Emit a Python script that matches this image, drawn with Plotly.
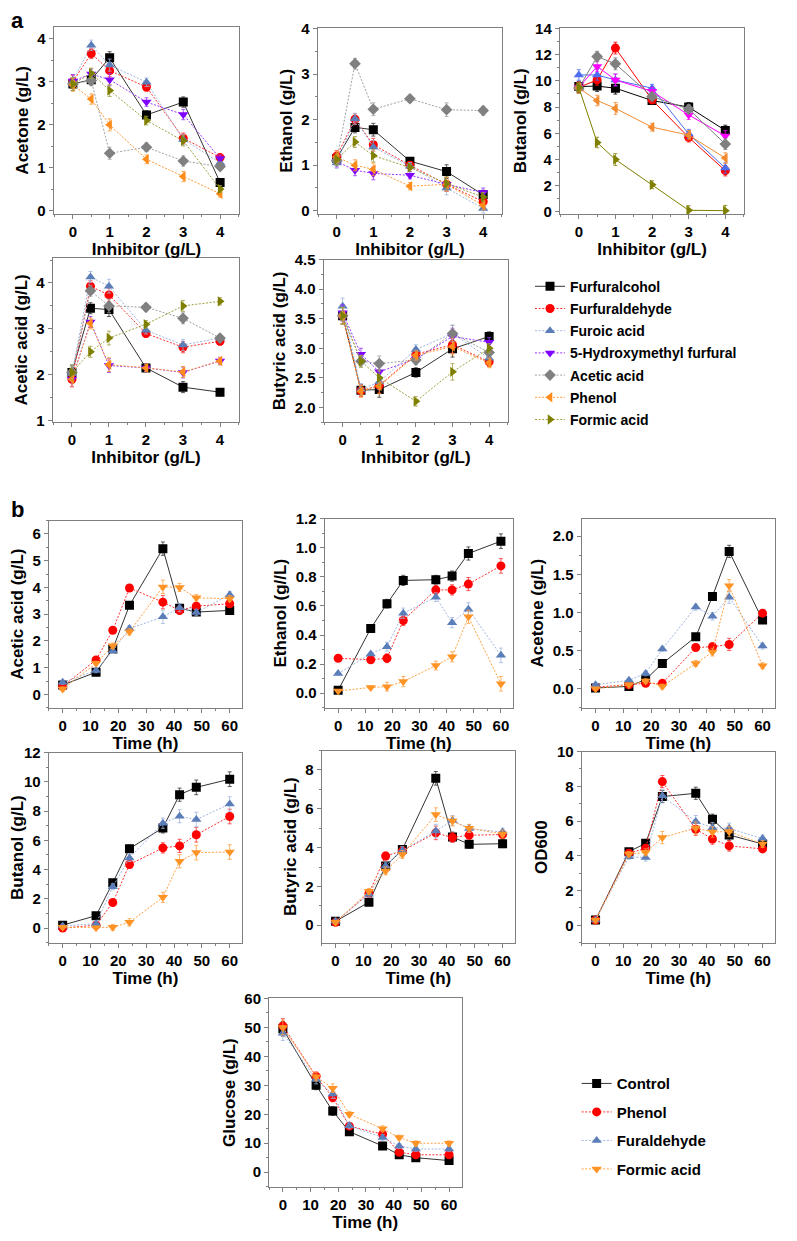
import plotly.graph_objects as go

# The page body has an 8px margin: figure is sized to fit inside the window,
# and all layout positions below are given in window pixels.
WIN_W, WIN_H = 797, 1241
OFF = 8
W, H = WIN_W - 2 * OFF, WIN_H - 2 * OFF
FONT = "Liberation Sans, Arial, sans-serif"
DOT = "2px,1.6px"

# ---------------- data: panel a ----------------
INHIB = [0, 0.5, 1, 2, 3, 4]
SERIES_A = ["Furfuralcohol", "Furfuraldehyde", "Furoic acid",
            "5-Hydroxymethyl furfural", "Acetic acid", "Phenol", "Formic acid"]

# Acetone (g/L)
ACE_FALC = [2.95, 3.05, 3.56, 2.23, 2.53, 0.66]
ACE_FALD = [3.00, 3.66, 3.26, 2.88, 1.69, 1.24]
ACE_FURO = [3.02, 3.85, 3.39, 2.99, 1.66, 1.12]
ACE_HMF = [3.02, 3.18, 3.05, 2.53, 2.24, 1.22]
ACE_ACET = [2.95, 3.03, 1.34, 1.48, 1.16, 1.03]
ACE_PHEN = [2.93, 2.60, 2.00, 1.20, 0.80, 0.40]
ACE_FORM = [2.95, 3.20, 2.80, 2.10, 1.63, 0.51]
ACE_ERR = [0.15, 0.12, 0.14, 0.10, 0.12, 0.08]

# Ethanol (g/L)
ETH_FALC = [1.15, 1.83, 1.78, 1.09, 0.86, 0.35]
ETH_FALD = [1.20, 2.01, 1.45, 1.00, 0.58, 0.20]
ETH_FURO = [1.05, 2.02, 1.40, 0.98, 0.50, 0.05]
ETH_HMF = [1.08, 0.89, 0.82, 0.78, 0.58, 0.40]
ETH_ACET = [1.10, 3.23, 2.23, 2.46, 2.22, 2.20]
ETH_PHEN = [1.18, 1.00, 0.91, 0.54, 0.58, 0.12]
ETH_FORM = [1.13, 1.51, 1.21, 0.95, 0.60, 0.30]
ETH_ERR = [0.12, 0.12, 0.14, 0.08, 0.15, 0.10]

# Butanol (g/L)
BUT_FALC = [9.57, 9.60, 9.44, 8.50, 8.00, 6.22]
BUT_FALD = [9.50, 10.07, 12.50, 8.55, 5.69, 3.15]
BUT_FURO = [10.45, 10.45, 10.07, 9.44, 5.95, 3.35]
BUT_HMF = [9.50, 11.10, 10.07, 9.20, 7.40, 5.80]
BUT_ACET = [9.45, 11.85, 11.30, 8.80, 7.85, 5.18]
BUT_PHEN = [9.45, 8.50, 7.90, 6.47, 5.86, 4.11]
BUT_FORM = [9.50, 5.30, 4.00, 2.08, 0.13, 0.10]
BUT_ERR = [0.40, 0.40, 0.45, 0.30, 0.35, 0.40]

# Acetic acid (g/L)
ACA_FALC = [2.05, 3.45, 3.42, 2.15, 1.73, 1.62]
ACA_FALD = [1.90, 3.93, 3.74, 2.90, 2.60, 2.73]
ACA_FURO = [2.02, 4.13, 3.93, 2.97, 2.65, 2.80]
ACA_HMF = [1.90, 3.15, 2.20, 2.15, 2.05, 2.30]
ACA_ACET = [2.05, 3.83, 3.50, 3.47, 3.23, 2.80]
ACA_PHEN = [1.90, 3.12, 2.22, 2.15, 2.06, 2.30]
ACA_FORM = [2.05, 2.50, 2.80, 3.10, 3.50, 3.60]
ACA_ERR = [0.16, 0.12, 0.15, 0.08, 0.12, 0.08]

# Butyric acid (g/L)
BUA_FALC = [3.55, 2.29, 2.30, 2.59, 2.99, 3.20]
BUA_FALD = [3.55, 2.28, 2.37, 2.90, 3.06, 2.77]
BUA_FURO = [3.71, 2.30, 2.43, 2.98, 3.25, 2.83]
BUA_HMF = [3.60, 2.90, 2.60, 2.82, 3.20, 3.10]
BUA_ACET = [3.55, 2.78, 2.74, 2.80, 3.25, 2.93]
BUA_PHEN = [3.55, 2.27, 2.36, 2.88, 3.03, 2.75]
BUA_FORM = [3.55, 2.78, 2.50, 2.10, 2.60, 3.00]
BUA_ERR = [0.14, 0.10, 0.13, 0.08, 0.14, 0.08]

# ---------------- data: panel b ----------------
TIME = [0, 12, 18, 24, 36, 42, 48, 60]
SERIES_B = ["Control", "Phenol", "Furaldehyde", "Formic acid"]

BACA_CTRL = [0.35, 0.83, 1.70, 3.33, 5.45, 3.22, 3.08, 3.14]
BACA_PHEN = [0.30, 1.29, 2.40, 3.98, 3.45, 3.14, 3.30, 3.39]
BACA_FURA = [0.45, 0.89, 1.63, 2.46, 2.90, 3.24, 3.06, 3.73]
BACA_FORM = [0.20, 1.16, 1.82, 2.34, 4.02, 4.00, 3.61, 3.58]
BACA_ERR = [0.08, 0.08, 0.10, 0.12, 0.25, 0.15, 0.12, 0.12]

BETH_CTRL = [0.02, 0.445, 0.615, 0.775, 0.78, 0.805, 0.96, 1.045]
BETH_PHEN = [0.24, 0.23, 0.24, 0.50, 0.71, 0.71, 0.75, 0.875]
BETH_FURA = [0.135, 0.27, 0.32, 0.55, 0.66, 0.485, 0.577, 0.26]
BETH_FORM = [0.015, 0.04, 0.045, 0.08, 0.19, 0.25, 0.525, 0.065]
BETH_ERR = [0.01, 0.01, 0.03, 0.035, 0.03, 0.035, 0.045, 0.05]

BACE_CTRL = [0.01, 0.03, 0.12, 0.33, 0.68, 1.21, 1.80, 0.90]
BACE_PHEN = [0.02, 0.05, 0.07, 0.07, 0.54, 0.55, 0.58, 0.99]
BACE_FURA = [0.05, 0.11, 0.20, 0.52, 1.07, 0.95, 1.20, 0.56]
BACE_FORM = [0.00, 0.05, 0.10, 0.03, 0.33, 0.48, 1.35, 0.30]
BACE_ERR = [0.02, 0.02, 0.03, 0.03, 0.04, 0.05, 0.08, 0.04]

BBUT_CTRL = [0.20, 0.85, 3.10, 5.43, 6.85, 9.12, 9.62, 10.18]
BBUT_PHEN = [0.00, 0.20, 1.75, 4.35, 5.48, 5.62, 6.38, 7.63]
BBUT_FURA = [0.15, 0.30, 2.83, 4.80, 7.17, 7.65, 7.42, 8.48]
BBUT_FORM = [0.05, 0.02, 0.05, 0.40, 2.10, 4.57, 5.16, 5.20]
BBUT_ERR = [0.10, 0.10, 0.20, 0.25, 0.35, 0.45, 0.50, 0.50]

BBUA_CTRL = [0.20, 1.19, 3.05, 3.90, 7.57, 4.55, 4.17, 4.20]
BBUA_PHEN = [0.15, 1.65, 3.57, 3.83, 4.76, 4.52, 4.64, 4.67]
BBUA_FURA = [0.20, 1.60, 3.05, 3.85, 4.85, 5.40, 4.98, 4.80]
BBUA_FORM = [0.15, 1.75, 2.80, 3.65, 5.70, 5.37, 5.00, 4.70]
BBUA_ERR = [0.10, 0.15, 0.20, 0.20, 0.35, 0.25, 0.20, 0.20]

BOD_CTRL = [0.30, 4.24, 4.72, 7.41, 7.60, 6.10, 5.20, 4.68]
BOD_PHEN = [0.30, 4.15, 4.43, 8.27, 5.53, 4.97, 4.57, 4.40]
BOD_FURA = [0.30, 3.95, 3.90, 7.45, 5.97, 5.62, 5.58, 4.99]
BOD_FORM = [0.30, 4.10, 4.20, 5.05, 5.60, 5.37, 5.40, 4.68]
BOD_ERR = [0.10, 0.15, 0.20, 0.35, 0.35, 0.30, 0.30, 0.20]

BGLU_CTRL = [49.5, 30.0, 21.1, 14.0, 9.05, 6.0, 5.0, 4.0]
BGLU_PHEN = [50.5, 33.1, 25.8, 15.9, 13.1, 6.9, 6.0, 6.0]
BGLU_FURA = [48.0, 32.0, 27.0, 16.0, 12.0, 9.0, 8.0, 8.0]
BGLU_FORM = [50.0, 33.0, 29.0, 20.0, 15.0, 12.0, 10.0, 10.0]
BGLU_ERR = [2.5, 1.5, 1.5, 1.0, 1.0, 0.8, 0.8, 0.8]

# ---------------- styles ----------------
STYLE_A = [
    dict(symbol="square", mcol="#000000", lcol="#333333", dash="solid"),
    dict(symbol="circle", mcol="#ff0000", lcol="#ff3030", dash=DOT),
    dict(symbol="triangle-up", mcol="#5b7db8", lcol="#9fb6df", dash=DOT),
    dict(symbol="triangle-down", mcol="#8000ff", lcol="#9933ff", dash=DOT),
    dict(symbol="diamond", mcol="#808080", lcol="#a0a0a0", dash=DOT),
    dict(symbol="triangle-left", mcol="#ff8c1a", lcol="#ff9933", dash=DOT),
    dict(symbol="triangle-right", mcol="#808000", lcol="#a0a040", dash=DOT),
]
STYLE_A_BUT = [
    dict(symbol="square", mcol="#000000", lcol="#000000", dash="solid"),
    dict(symbol="circle", mcol="#ff0000", lcol="#ff0000", dash="solid"),
    dict(symbol="triangle-up", mcol="#4d6ff0", lcol="#4d6ff0", dash="solid"),
    dict(symbol="triangle-down", mcol="#ff00ff", lcol="#ff00ff", dash="solid"),
    dict(symbol="diamond", mcol="#808080", lcol="#808080", dash="solid"),
    dict(symbol="triangle-left", mcol="#f28a30", lcol="#f28a30", dash="solid"),
    dict(symbol="triangle-right", mcol="#7f8000", lcol="#7f8000", dash="solid"),
]
STYLE_B = [
    dict(symbol="square", mcol="#000000", lcol="#333333", dash="solid"),
    dict(symbol="circle", mcol="#ff0000", lcol="#ff3030", dash=DOT),
    dict(symbol="triangle-up", mcol="#5b7db8", lcol="#9fb6df", dash=DOT),
    dict(symbol="triangle-down", mcol="#ff9326", lcol="#ffa040", dash=DOT),
]


def px(x):
    return (x - OFF) / W


def vy(y):
    # small vertical correction so that positions land where the reference has them
    return y - 5 + 10 * (y - 35) / 1139


def py(y):
    return 1 - (vy(y) - OFF) / H


def dom(box):
    l, t, r, b = box
    return [px(l), px(r)], [py(b), py(t)]


fig = go.Figure()
layout = dict(
    width=W, height=H, margin=dict(l=0, r=0, t=0, b=0),
    paper_bgcolor="white", plot_bgcolor="white",
    font=dict(family=FONT, color="black"),
)

AX_COMMON = dict(
    showline=True, linecolor="#7f7f7f", linewidth=1, mirror=True,
    ticks="outside", ticklen=4, tickwidth=1, tickcolor="#7f7f7f",
    showgrid=False, zeroline=False,
    tickfont=dict(family=FONT, size=15, color="black", weight="bold"),
)


def add_panel(idx, box, xs, series, names, styles, xr, xdt, xminor, yr, ydt, yminor,
              ytitle, xtitle, errs, yfmt=None, legend_name=None, ystand=4):
    xid = "x" if idx == 1 else f"x{idx}"
    yid = "y" if idx == 1 else f"y{idx}"
    xd, yd = dom(box)
    for ys, nm, st in zip(series, names, styles):
        fig.add_trace(go.Scatter(
            x=xs, y=ys, name=nm, mode="lines+markers",
            xaxis=xid, yaxis=yid,
            line=dict(color=st["lcol"], width=1, dash=st["dash"]),
            marker=dict(symbol=st["symbol"], size=9, color=st["mcol"],
                        line=dict(width=0)),
            error_y=dict(type="data", array=errs, color=st["lcol"],
                         thickness=0.8, width=2),
            showlegend=legend_name is not None,
            legend=legend_name if legend_name else "legend",
            legendgroup=(legend_name or "") + nm,
        ))
    xa = dict(AX_COMMON, domain=xd, anchor=yid, range=xr, dtick=xdt, tick0=0,
              minor=dict(ticks="outside", ticklen=2, tickcolor="#7f7f7f", dtick=xminor),
              title=dict(text=xtitle, font=dict(family=FONT, size=17, weight="bold"),
                         standoff=3))
    ya = dict(AX_COMMON, domain=yd, anchor=xid, range=yr, dtick=ydt, tick0=0,
              minor=dict(ticks="outside", ticklen=2, tickcolor="#7f7f7f", dtick=yminor),
              title=dict(text=ytitle, font=dict(family=FONT, size=17, weight="bold"),
                         standoff=ystand))
    if yfmt:
        ya["tickformat"] = yfmt
    layout["xaxis" if idx == 1 else f"xaxis{idx}"] = xa
    layout["yaxis" if idx == 1 else f"yaxis{idx}"] = ya


XR_A = [-0.52, 4.52]
XR_B = [-5, 64.5]

add_panel(1, (48, 23, 235, 211), INHIB,
          [ACE_FALC, ACE_FALD, ACE_FURO, ACE_HMF, ACE_ACET, ACE_PHEN, ACE_FORM],
          SERIES_A, STYLE_A, XR_A, 1, 0.5, [-0.07, 4.28], 1, 0.5,
          "Acetone (g/L)", "Inhibitor (g/L)", ACE_ERR)
add_panel(2, (314, 24, 500, 211), INHIB,
          [ETH_FALC, ETH_FALD, ETH_FURO, ETH_HMF, ETH_ACET, ETH_PHEN, ETH_FORM],
          SERIES_A, STYLE_A, XR_A, 1, 0.5, [-0.07, 4.02], 1, 0.5,
          "Ethanol (g/L)", "Inhibitor (g/L)", ETH_ERR)
add_panel(3, (558, 24, 744, 211), INHIB,
          [BUT_FALC, BUT_FALD, BUT_FURO, BUT_HMF, BUT_ACET, BUT_PHEN, BUT_FORM],
          SERIES_A, STYLE_A_BUT, XR_A, 1, 0.5, [-0.15, 14.05], 2, 1,
          "Butanol (g/L)", "Inhibitor (g/L)", BUT_ERR)
add_panel(4, (47, 255, 235, 420), INHIB,
          [ACA_FALC, ACA_FALD, ACA_FURO, ACA_HMF, ACA_ACET, ACA_PHEN, ACA_FORM],
          SERIES_A, STYLE_A, XR_A, 1, 0.5, [0.97, 4.55], 1, 0.5,
          "Acetic acid (g/L)", "Inhibitor (g/L)", ACA_ERR, legend_name="legend")
add_panel(5, (320, 257, 506, 420), INHIB,
          [BUA_FALC, BUA_FALD, BUA_FURO, BUA_HMF, BUA_ACET, BUA_PHEN, BUA_FORM],
          SERIES_A, STYLE_A, XR_A, 1, 0.5, [1.75, 4.5], 0.5, 0.25,
          "Butyric acid (g/L)", "Inhibitor (g/L)", BUA_ERR, yfmt=".1f")

add_panel(6, (43, 519, 238, 707), TIME,
          [BACA_CTRL, BACA_PHEN, BACA_FURA, BACA_FORM],
          SERIES_B, STYLE_B, XR_B, 10, 5, [-0.5, 6.5], 1, 0.5,
          "Acetic acid (g/L)", "Time (h)", BACA_ERR)
add_panel(7, (321, 517, 511, 707), TIME,
          [BETH_CTRL, BETH_PHEN, BETH_FURA, BETH_FORM],
          SERIES_B, STYLE_B, XR_B, 10, 5, [-0.1, 1.2], 0.2, 0.1,
          "Ethanol (g//L)", "Time (h)", BETH_ERR, yfmt=".1f")
add_panel(8, (580, 517, 775, 707), TIME,
          [BACE_CTRL, BACE_PHEN, BACE_FURA, BACE_FORM],
          SERIES_B, STYLE_B, XR_B, 10, 5, [-0.25, 2.23], 0.5, 0.25,
          "Acetone (g/L)", "Time (h)", BACE_ERR, yfmt=".1f")
add_panel(9, (43, 752, 238, 943), TIME,
          [BBUT_CTRL, BBUT_PHEN, BBUT_FURA, BBUT_FORM],
          SERIES_B, STYLE_B, XR_B, 10, 5, [-1, 12], 2, 1,
          "Butanol (g/L)", "Time (h)", BBUT_ERR)
add_panel(10, (318, 750, 513, 943), TIME,
          [BBUA_CTRL, BBUA_PHEN, BBUA_FURA, BBUA_FORM],
          SERIES_B, STYLE_B, XR_B, 10, 5, [-0.9, 9.0], 2, 1,
          "Butyric acid (g/L)", "Time (h)", BBUA_ERR)
add_panel(11, (580, 751, 775, 943), TIME,
          [BOD_CTRL, BOD_PHEN, BOD_FURA, BOD_FORM],
          SERIES_B, STYLE_B, XR_B, 10, 5, [-1, 10], 2, 1,
          "OD600", "Time (h)", BOD_ERR)
add_panel(12, (265, 999, 459, 1188), TIME,
          [BGLU_CTRL, BGLU_PHEN, BGLU_FURA, BGLU_FORM],
          SERIES_B, STYLE_B, XR_B, 10, 5, [-5, 60], 10, 5,
          "Glucose (g/L)", "Time (h)", BGLU_ERR, legend_name="legend2")

layout["legend"] = dict(
    x=px(528), y=py(268), xanchor="left", yanchor="top",
    font=dict(family=FONT, size=14, color="black", weight="bold"),
    bgcolor="rgba(0,0,0,0)", tracegroupgap=1,
)
layout["legend2"] = dict(
    x=px(575), y=py(1068), xanchor="left", yanchor="top",
    font=dict(family=FONT, size=15, color="black", weight="bold"),
    bgcolor="rgba(0,0,0,0)", tracegroupgap=6,
)

layout["annotations"] = [
    dict(text="a", x=px(12), y=py(17), xref="paper", yref="paper",
         showarrow=False, font=dict(family=FONT, size=22, weight="bold"),
         xanchor="center", yanchor="middle"),
    dict(text="b", x=px(12), y=py(508), xref="paper", yref="paper",
         showarrow=False, font=dict(family=FONT, size=22, weight="bold"),
         xanchor="center", yanchor="middle"),
]

fig.update_layout(**layout)
fig.write_html("out.html")
